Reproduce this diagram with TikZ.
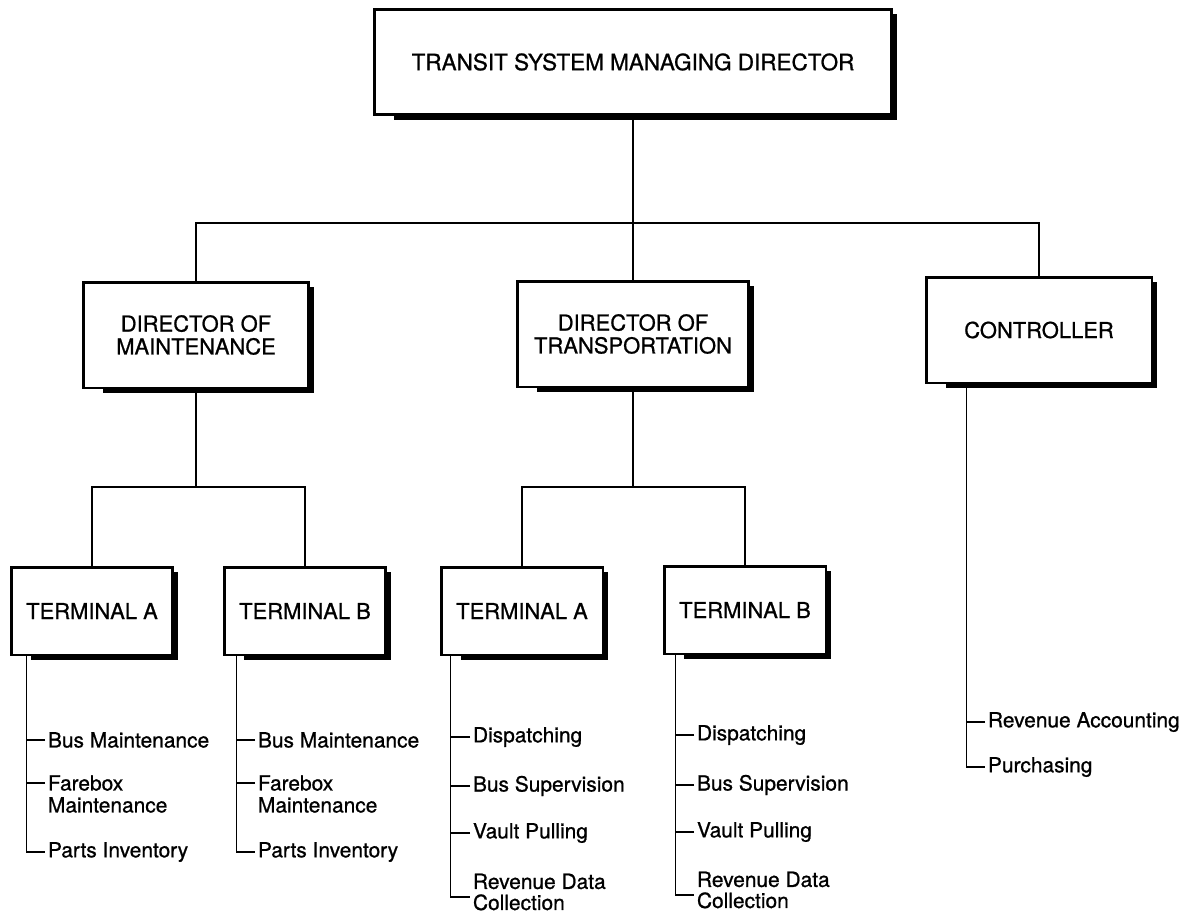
\documentclass[tikz,border=0pt]{standalone}
\usepackage{fontspec}
\setmainfont{TeX Gyre Heros}[FakeBold=0.9]

\tikzset{
  orgbox/.style={draw, line width=1.7pt, fill=white, align=center, inner sep=2pt,
    font=\fontsize{12.5}{13}\selectfont},
  dirbox/.style={orgbox, minimum width=4.52cm, minimum height=2.12cm},
  termbox/.style={orgbox, minimum width=3.24cm, minimum height=1.76cm},
  duty/.style={anchor=west, align=left, inner sep=1.5pt,
    font=\fontsize{11.9}{12.5}\selectfont},
  link/.style={line width=0.9pt},
}

\begin{document}
\begin{tikzpicture}[x=0.02cm,y=-0.02cm]
\useasboundingbox (0,0) rectangle (1192,916);

% boxes
\node[orgbox, minimum width=10.36cm, minimum height=2.12cm, font=\fontsize{12.8}{14}\selectfont] (top) at (633,62) {TRANSIT SYSTEM MANAGING DIRECTOR};
\node[dirbox] (dmaint) at (196,335) {DIRECTOR OF\\MAINTENANCE};
\node[dirbox, minimum width=4.64cm] (dtrans) at (633,334) {DIRECTOR OF\\TRANSPORTATION};
\node[dirbox] (ctrl) at (1039,330) {CONTROLLER};

\node[termbox] (mtA) at (92,611) {TERMINAL A};
\node[termbox] (mtB) at (305,611) {TERMINAL B};
\node[termbox] (ttA) at (522,611) {TERMINAL A};
\node[termbox] (ttB) at (745,610) {TERMINAL B};

% shadows
\foreach \n in {top,dmaint,dtrans,ctrl,mtA,mtB,ttA,ttB}{
  \fill ([xshift=0.42cm]\n.south west) rectangle ([xshift=0.08cm,yshift=-0.08cm]\n.south east);
  \fill ([yshift=-0.12cm]\n.north east) rectangle ([xshift=0.08cm,yshift=-0.08cm]\n.south east);
}

% tree
\coordinate (j0) at (633,223);
\coordinate (j1) at (196,487);
\coordinate (j2) at (633,487);
\draw[link] (top.south) -- (dtrans.north);
\draw[link] (dmaint.north) |- (j0) -| (ctrl.north);
\draw[link] (dmaint.south) -- (j1);
\draw[link] (mtA.north) |- (j1) -| (mtB.north);
\draw[link] (dtrans.south) -- (j2);
\draw[link] (ttA.north) |- (j2) -| (ttB.north);

% duties
\node[duty] (mA1) at (45,740) {Bus Maintenance};
\node[duty] (mA2) at (45,794) {Farebox\\Maintenance};
\node[duty] (mA3) at (45,852) {Parts Inventory};

\node[duty] (mB1) at (255,740) {Bus Maintenance};
\node[duty] (mB2) at (255,794) {Farebox\\Maintenance};
\node[duty] (mB3) at (255,852) {Parts Inventory};

\node[duty] (tA1) at (470,737) {Dispatching};
\node[duty] (tA2) at (470,786) {Bus Supervision};
\node[duty] (tA3) at (470,833) {Vault Pulling};
\node[duty, font=\fontsize{11.9}{12}\selectfont] (tA4) at (470,892) {Revenue Data\\Collection};

\node[duty] (tB1) at (694,735) {Dispatching};
\node[duty] (tB2) at (694,785) {Bus Supervision};
\node[duty] (tB3) at (694,832) {Vault Pulling};
\node[duty, font=\fontsize{11.9}{12}\selectfont] (tB4) at (694,890) {Revenue Data\\Collection};

\node[duty] (c1) at (985,722) {Revenue Accounting};
\node[duty] (c2) at (985,767) {Purchasing};

% duty lines
\coordinate (mAl) at ([xshift=0.34cm]mtA.south west);
\coordinate (mBl) at ([xshift=0.28cm]mtB.south west);
\coordinate (tAl) at ([xshift=0.22cm]ttA.south west);
\coordinate (tBl) at ([xshift=0.26cm]ttB.south west);
\coordinate (cl) at ([xshift=0.84cm]ctrl.south west);

\draw[link] (mAl) |- (mA3.west);
\draw[link] (mBl) |- (mB3.west);
\draw[link] (cl) |- (c2.west);
\path ([yshift=-0.1cm]tA4.west) coordinate (tA4t);
\path ([yshift=-0.1cm]tB4.west) coordinate (tB4t);
\draw[link] (tAl) |- (tA4t);
\draw[link] (tBl) |- (tB4t);

\path ([yshift=0.22cm]mA2.west) coordinate (mA2t);
\path ([yshift=0.22cm]mB2.west) coordinate (mB2t);
\foreach \t/\l in {mA1/mAl,mA2t/mAl,mB1/mBl,mB2t/mBl,c1/cl}
  \draw[link] (\t) -- (\t -| \l);
\foreach \t/\l in {tA1/tAl,tA2/tAl,tA3/tAl,tB1/tBl,tB2/tBl,tB3/tBl}
  \draw[link] (\t.west) -- (\t.west -| \l);
\end{tikzpicture}
\end{document}
